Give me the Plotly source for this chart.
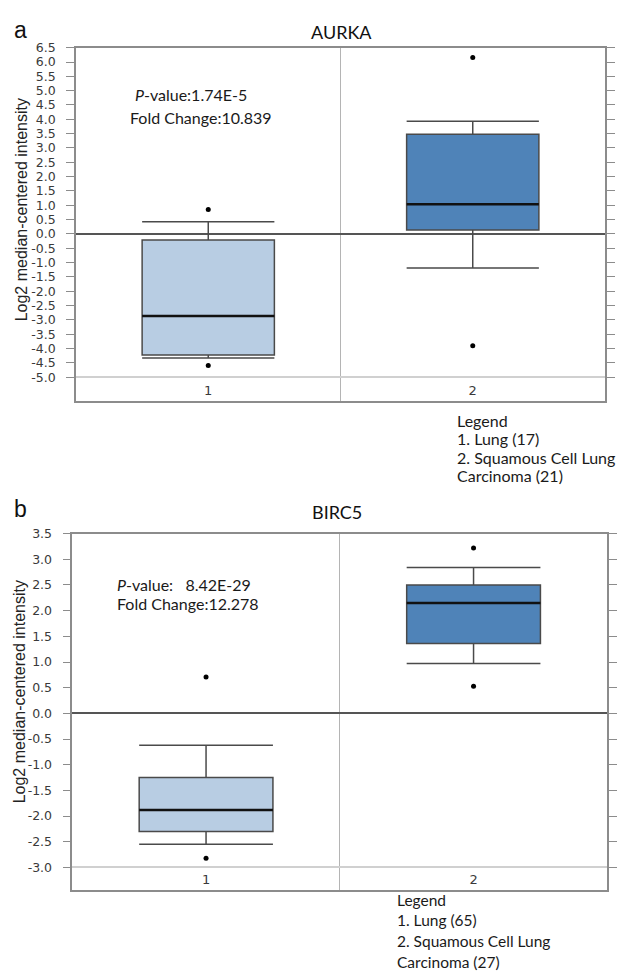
import plotly.graph_objects as go

W, H = 617, 972

GROUPS = [1, 2]
GROUP_LABELS = ["1", "2"]
FILLS = ["#b8cde3", "#4f83b8"]

# Panel a: AURKA
A_Q1 = [-4.22, 0.14]
A_MEDIAN = [-2.86, 1.04]
A_Q3 = [-0.21, 3.48]
A_LOWER = [-4.33, -1.19]
A_UPPER = [0.43, 3.93]
A_OUT_X = [1, 1, 2, 2]
A_OUT_Y = [0.85, -4.59, 6.16, -3.90]
A_TICKS = [6.5, 6.0, 5.5, 5.0, 4.5, 4.0, 3.5, 3.0, 2.5, 2.0, 1.5, 1.0, 0.5, 0.0,
           -0.5, -1.0, -1.5, -2.0, -2.5, -3.0, -3.5, -4.0, -4.5, -5.0]
A_TICK_LABELS = [f"{v:.1f}" for v in A_TICKS]

# Panel b: BIRC5
B_Q1 = [-2.30, 1.36]
B_MEDIAN = [-1.88, 2.15]
B_Q3 = [-1.25, 2.50]
B_LOWER = [-2.55, 0.97]
B_UPPER = [-0.62, 2.84]
B_OUT_X = [1, 1, 2, 2]
B_OUT_Y = [0.71, -2.82, 3.22, 0.53]
B_TICKS = [3.5, 3.0, 2.5, 2.0, 1.5, 1.0, 0.5, 0.0, -0.5, -1.0, -1.5, -2.0, -2.5, -3.0]
B_TICK_LABELS = [f"{v:.1f}" for v in B_TICKS]

BOX_WIDTH = 0.5


def px(x):
    return x / W


def py(y):
    return 1 - y / H


fig = go.Figure()


def add_panel(xa, ya, q1, med, q3, lo, hi, ox, oy):
    for i, g in enumerate(GROUPS):
        fig.add_trace(go.Box(
            x=[g], q1=[q1[i]], median=[med[i]], q3=[q3[i]],
            lowerfence=[lo[i]], upperfence=[hi[i]],
            width=BOX_WIDTH, whiskerwidth=1, fillcolor=FILLS[i],
            line=dict(color="#4a4a4a", width=1.5), boxpoints=False,
            xaxis=xa, yaxis=ya, showlegend=False, hoverinfo="skip"))
        fig.add_trace(go.Scatter(
            x=[g - BOX_WIDTH / 2, g + BOX_WIDTH / 2], y=[med[i], med[i]],
            mode="lines", line=dict(color="#111111", width=2.5),
            xaxis=xa, yaxis=ya, showlegend=False, hoverinfo="skip"))
    fig.add_trace(go.Scatter(
        x=ox, y=oy, mode="markers", marker=dict(color="black", size=5),
        xaxis=xa, yaxis=ya, showlegend=False, hoverinfo="skip"))


add_panel("x", "y", A_Q1, A_MEDIAN, A_Q3, A_LOWER, A_UPPER, A_OUT_X, A_OUT_Y)
add_panel("x2", "y2", B_Q1, B_MEDIAN, B_Q3, B_LOWER, B_UPPER, B_OUT_X, B_OUT_Y)

FRAME = "#8c8c8c"
TICKFONT = dict(family="DejaVu Sans", size=12.5, color="#3a3a3a")
XTICKFONT = dict(family="DejaVu Sans", size=13, color="#3a3a3a")


def xaxis_cfg(domain, anchor):
    return dict(domain=domain, anchor=anchor, range=[0.5, 2.5],
                tickmode="array", tickvals=GROUPS, ticktext=GROUP_LABELS,
                ticklabelposition="inside", ticks="", tickfont=XTICKFONT,
                ticklabelstandoff=3,
                showline=True, mirror=True, linecolor=FRAME, linewidth=1.5,
                showgrid=False, zeroline=False,
                minor=dict(tickmode="array", tickvals=[1.5], showgrid=True,
                           gridcolor="#b4b4b4", gridwidth=1, ticks=""))


def yaxis_cfg(domain, anchor, rng, ticks, labels):
    return dict(domain=domain, anchor=anchor, range=rng,
                tickmode="array", tickvals=ticks, ticktext=labels,
                ticks="outside", ticklen=8, tickcolor=FRAME, tickwidth=1,
                ticklabelstandoff=8, tickfont=TICKFONT,
                showline=True, mirror="ticks", linecolor=FRAME, linewidth=1.5,
                showgrid=False, zeroline=True, zerolinecolor="#555555",
                zerolinewidth=1.5,
                minor=dict(tickmode="array", tickvals=[ticks[-1]], showgrid=True,
                           gridcolor="#d0d0d0", gridwidth=1.5, ticks=""))


fig.update_layout(
    width=W, height=H, margin=dict(l=0, r=0, t=0, b=0),
    paper_bgcolor="white", plot_bgcolor="white", boxmode="overlay",
    showlegend=False,
    xaxis=xaxis_cfg([px(76), px(605)], "y"),
    yaxis=yaxis_cfg([py(396), py(40)], "x", [-5.82, 6.5], A_TICKS, A_TICK_LABELS),
    xaxis2=xaxis_cfg([px(72.3), px(607.3)], "y2"),
    yaxis2=yaxis_cfg([py(889.3), py(530)], "x2", [-3.44, 3.5], B_TICKS, B_TICK_LABELS),
)

TXT = dict(family="Lato", size=16, color="#1a1a1a")
ann = []


def note(text, x, y, xanchor="left", font=TXT, **kw):
    ann.append(dict(text=text, x=px(x), y=py(y), xref="paper", yref="paper",
                    xanchor=xanchor, yanchor="middle", showarrow=False,
                    font=font, **kw))


# panel letters and titles
note("a", 12, 22, font=dict(family="Liberation Sans", size=23, color="#111"))
note("b", 12, 505, font=dict(family="Liberation Sans", size=23, color="#111"))
note("AURKA", 342, 24, xanchor="center", font=dict(family="Lato", size=18, color="#111"))
note("BIRC5", 337, 508, xanchor="center", font=dict(family="Lato", size=18, color="#111"))

# statistics text
note("<i>P</i>-value:1.74E-5", 133, 87)
note("Fold Change:10.839", 128, 110)
note("<i>P</i>-value:\u00a0\u00a0\u00a08.42E-29", 115, 581)
note("Fold Change:12.278", 115, 600)

# y axis titles
YT = dict(family="Liberation Sans", size=16, color="#222")
note("Log2 median-centered intensity", 21, 204, xanchor="center", font=YT, textangle=-90)
note("Log2 median-centered intensity", 19, 690, xanchor="center", font=YT, textangle=-90)

# legends
for i, t in enumerate(["Legend", "1. Lung (17)", "2. Squamous Cell Lung", "Carcinoma (21)"]):
    note(t, 455, 416 + 18.4 * i)
LEG2 = dict(family="Lato", size=15.5, color="#1a1a1a")
for i, t in enumerate(["Legend", "1. Lung (65)", "2. Squamous Cell Lung", "Carcinoma (27)"]):
    note(t, 395, 899 + 21 * i, font=LEG2)

fig.update_layout(annotations=ann)
fig.write_html(
    "out.html",
    config={"displayModeBar": False},
    post_script="document.body.style.margin='0';document.body.style.overflow='hidden';",
)
